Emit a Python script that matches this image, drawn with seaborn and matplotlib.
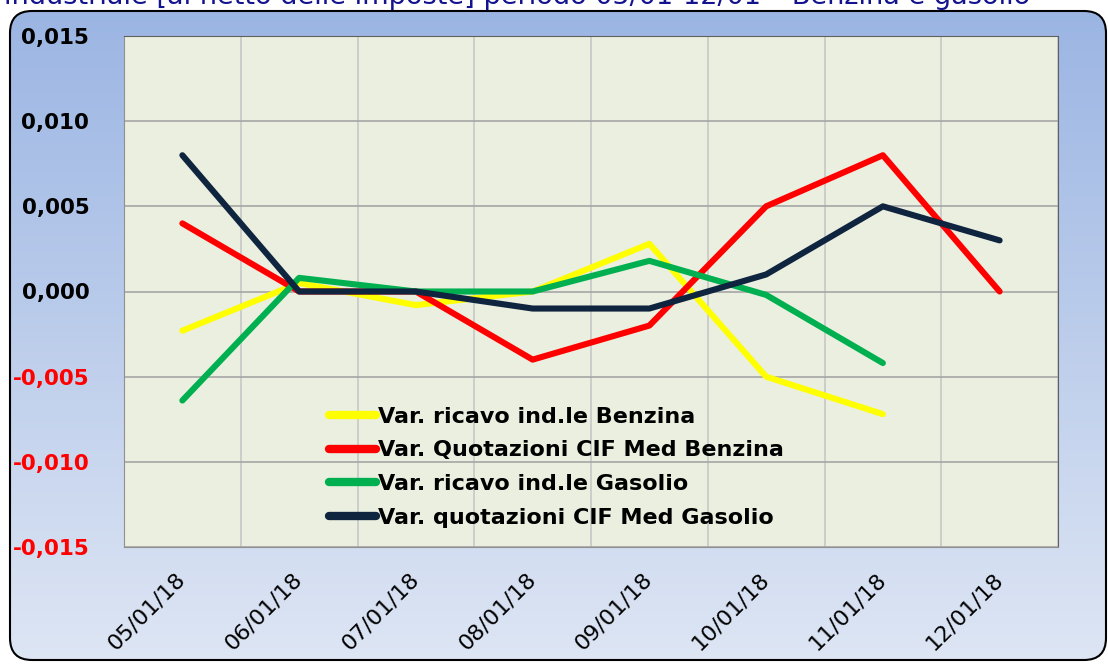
import numpy as np
import pandas as pd
import matplotlib
matplotlib.use("Agg")
import matplotlib.pyplot as plt
from matplotlib.patches import FancyBboxPatch
from matplotlib.ticker import FixedLocator, FuncFormatter
import seaborn as sns

# dati
date = ["05/01/18", "06/01/18", "07/01/18", "08/01/18",
        "09/01/18", "10/01/18", "11/01/18", "12/01/18"]
ricavo_benzina = [-0.0023, 0.0005, -0.0008, 0.0, 0.0028, -0.005, -0.0072, np.nan]
cif_benzina = [0.004, 0.0, 0.0, -0.004, -0.002, 0.005, 0.008, 0.0]
ricavo_gasolio = [-0.0064, 0.0008, 0.0, 0.0, 0.0018, -0.0002, -0.0042, np.nan]
cif_gasolio = [0.008, 0.0, 0.0, -0.001, -0.001, 0.001, 0.005, 0.003]

serie = ["Var. ricavo ind.le Benzina", "Var. Quotazioni CIF Med Benzina",
         "Var. ricavo ind.le Gasolio", "Var. quotazioni CIF Med Gasolio"]
colori = ["#FFFF00", "#FF0000", "#00B050", "#0F243E"]
titolo = "industriale [al netto delle imposte] periodo 05/01-12/01 \u2013 Benzina e gasolio"

df = pd.DataFrame({
    "pos": list(range(len(date))) * 4,
    "valore": ricavo_benzina + cif_benzina + ricavo_gasolio + cif_gasolio,
    "serie": sum([[s] * len(date) for s in serie], []),
})

sns.set_style("white")
plt.rcParams["font.family"] = ["DejaVu Sans"]
plt.rcParams["text.color"] = "black"
plt.rcParams["xtick.color"] = "black"
plt.rcParams["ytick.color"] = "black"

fig = plt.figure(figsize=(11.08, 6.64), dpi=100)

# sfondo con gradiente e bordo arrotondato
ax_bg = fig.add_axes([0, 0, 1, 1], zorder=0)
ax_bg.set_xlim(0, 1108)
ax_bg.set_ylim(664, 0)
ax_bg.axis("off")
grad = np.linspace(0, 1, 256).reshape(-1, 1)
top = np.array([155, 181, 227]) / 255
bot = np.array([222, 230, 244]) / 255
img = top + (bot - top) * grad[:, :, None]
box = FancyBboxPatch((10, 11), 1096, 649, boxstyle="round,pad=0,rounding_size=22",
                     facecolor="none", edgecolor="black", lw=1.5, zorder=2)
ax_bg.add_patch(box)
im = ax_bg.imshow(img, extent=(0, 1108, 664, 11), aspect="auto", zorder=1)
im.set_clip_path(box)

# titolo (tagliato in alto come nell'originale)
fig.text(4 / 1108, 1 - 4 / 664, titolo, color="#13138F", fontsize=19.5,
         ha="left", va="baseline")

ax = fig.add_axes([124 / 1108, 1 - 547 / 664, 934 / 1108, 511 / 664], zorder=3)
ax.set_facecolor("#EBEFDF")

sns.lineplot(data=df, x="pos", y="valore", hue="serie", hue_order=serie,
             palette=colori, lw=4.4, ax=ax, sort=False)

ax.set_xlim(-0.5, len(date) - 0.5)
ax.set_ylim(-0.015, 0.015)
ax.set_yticks(np.arange(-0.015, 0.0151, 0.005))
ax.yaxis.set_major_formatter(FuncFormatter(lambda v, p: f"{v:.3f}".replace(".", ",").replace("-0,000", "0,000")))
ax.grid(axis="y", color="#A6A6A6", lw=1.2)
ax.set_xticks(range(len(date)))
ax.set_xticklabels(date)
ax.xaxis.set_minor_locator(FixedLocator(np.arange(-0.5, len(date), 1.0)))
ax.grid(axis="x", which="minor", color="#C8C8C8", lw=1.2)
ax.tick_params(axis="x", which="major", length=0, pad=21, labelsize=16)
ax.tick_params(axis="x", which="minor", length=8, color="#909090", direction="out")
ax.tick_params(axis="y", length=8, color="#909090", direction="out", pad=17, labelsize=15.5)
for lab in ax.get_xticklabels():
    lab.set_rotation(45)
    lab.set_ha("right")
    lab.set_va("center")
    lab.set_rotation_mode("anchor")
for v, lab in zip(ax.get_yticks(), ax.get_yticklabels()):
    lab.set_fontweight("bold")
    lab.set_color("#FF0000" if v < -1e-9 else "black")
ax.set_xlabel("")
ax.set_ylabel("")
for s in ["left", "bottom"]:
    ax.spines[s].set_color("#909090")
for s in ["top", "right"]:
    ax.spines[s].set_color("#606060")

leg = ax.legend(loc="upper left", bbox_to_anchor=(0.21, 0.292), frameon=False,
                prop={"weight": "bold", "size": 16}, handlelength=2.1,
                handletextpad=0.12, labelspacing=0.62, borderaxespad=0)
for h in leg.get_lines():
    h.set_linewidth(6)
    h.set_solid_capstyle("round")
for t in leg.get_texts():
    t.set_color("black")

fig.savefig("out.png", dpi=100)
